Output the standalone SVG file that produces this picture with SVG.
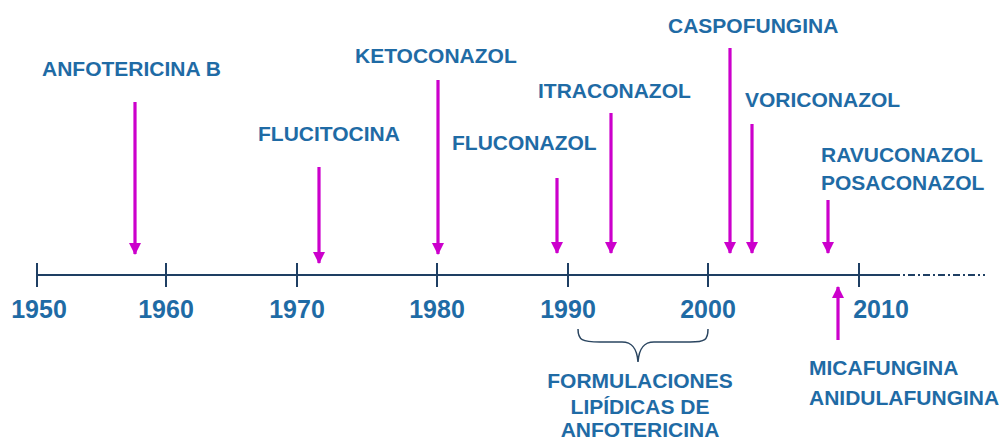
<svg xmlns="http://www.w3.org/2000/svg" width="999" height="441" viewBox="0 0 999 441">
<defs>
<style>
.lbl{font-family:"Liberation Sans",Arial,sans-serif;font-weight:bold;font-size:21px;fill:#1F6BA5;}
.yr{font-family:"Liberation Sans",Arial,sans-serif;font-weight:bold;font-size:25px;fill:#1F6BA5;text-anchor:middle;}
.arr{stroke:#CC00CC;stroke-width:3.2;fill:none;}
.ax{stroke:#1E3F63;stroke-width:2;fill:none;}
.br{stroke:#2A4560;stroke-width:1.5;fill:none;}
</style>
<marker id="ah" viewBox="0 0 12 12" refX="11" refY="6" markerWidth="12" markerHeight="12" markerUnits="userSpaceOnUse" orient="auto">
<path d="M0,0 L12,6 L0,12 Z" fill="#CC00CC"/>
</marker>
</defs>
<rect width="999" height="441" fill="#FFFFFF"/>
<g id="axis">
<line class="ax" x1="37" y1="275" x2="893" y2="275"/>
<line class="ax" x1="893" y1="275" x2="985" y2="275" stroke-dasharray="7 3 2 3" stroke-width="1.6"/>
<line class="ax" x1="37" y1="263" x2="37" y2="287"/>
<line class="ax" x1="166" y1="263" x2="166" y2="287"/>
<line class="ax" x1="297" y1="263" x2="297" y2="287"/>
<line class="ax" x1="437" y1="263" x2="437" y2="287"/>
<line class="ax" x1="568" y1="263" x2="568" y2="287"/>
<line class="ax" x1="708" y1="263" x2="708" y2="287"/>
<line class="ax" x1="859" y1="263" x2="859" y2="287"/>
<text class="yr" x="39" y="318">1950</text>
<text class="yr" x="166" y="318">1960</text>
<text class="yr" x="297" y="318">1970</text>
<text class="yr" x="437" y="318">1980</text>
<text class="yr" x="568" y="318">1990</text>
<text class="yr" x="708" y="318">2000</text>
<text class="yr" x="881" y="318">2010</text>
</g>
<g id="connectors">
<line class="arr" x1="135" y1="102" x2="135" y2="254" marker-end="url(#ah)"/>
<line class="arr" x1="319" y1="167" x2="319" y2="263" marker-end="url(#ah)"/>
<line class="arr" x1="438" y1="80" x2="438" y2="254" marker-end="url(#ah)"/>
<line class="arr" x1="557" y1="178" x2="557" y2="253" marker-end="url(#ah)"/>
<line class="arr" x1="611" y1="113" x2="611" y2="253" marker-end="url(#ah)"/>
<line class="arr" x1="730" y1="48" x2="730" y2="253" marker-end="url(#ah)"/>
<line class="arr" x1="752" y1="124" x2="752" y2="253" marker-end="url(#ah)"/>
<line class="arr" x1="828" y1="200" x2="828" y2="253" marker-end="url(#ah)"/>
<line class="arr" x1="838" y1="340" x2="838" y2="287" marker-end="url(#ah)"/>
<path class="br" d="M578,329 C578,340 582,342 600,342 L622,342 C632,342 637,348 638,362 C639,348 644,342 654,342 L690,342 C705,342 708,340 708,329"/>
</g>
<g id="n-anfotericina"><text class="lbl" x="42" y="76">ANFOTERICINA B</text></g>
<g id="n-flucitocina"><text class="lbl" x="258" y="141">FLUCITOCINA</text></g>
<g id="n-ketoconazol"><text class="lbl" x="355" y="63">KETOCONAZOL</text></g>
<g id="n-fluconazol"><text class="lbl" x="452" y="150">FLUCONAZOL</text></g>
<g id="n-itraconazol"><text class="lbl" x="538" y="98">ITRACONAZOL</text></g>
<g id="n-caspofungina"><text class="lbl" x="668" y="33">CASPOFUNGINA</text></g>
<g id="n-voriconazol"><text class="lbl" x="745" y="107">VORICONAZOL</text></g>
<g id="n-ravuposa"><text class="lbl" x="821" y="162">RAVUCONAZOL</text><text class="lbl" x="821" y="190">POSACONAZOL</text></g>
<g id="n-micaanidula"><text class="lbl" x="809" y="375">MICAFUNGINA</text><text class="lbl" x="809" y="405">ANIDULAFUNGINA</text></g>
<g id="n-formulaciones">
<text class="lbl" x="640" y="388" text-anchor="middle">FORMULACIONES</text>
<text class="lbl" x="640" y="414" text-anchor="middle">LIPÍDICAS DE</text>
<text class="lbl" x="640" y="437" text-anchor="middle">ANFOTERICINA</text>
</g>
</svg>
